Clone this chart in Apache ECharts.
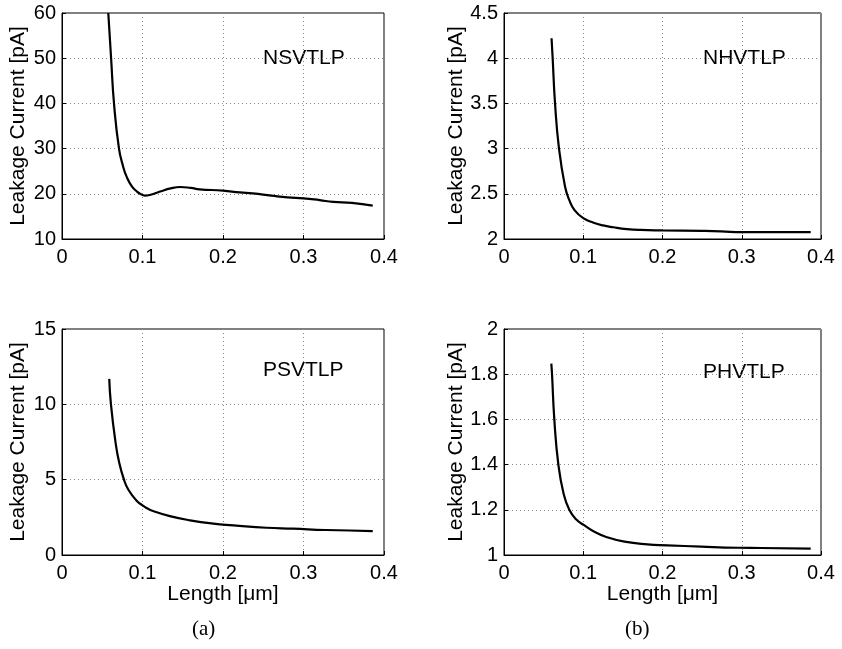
<!DOCTYPE html>
<html>
<head>
<meta charset="utf-8">
<script src="https://cdn.jsdelivr.net/npm/echarts@6/dist/echarts.min.js"></script>
<style>
html,body{margin:0;padding:0;background:#fff;}
#chart{width:842px;height:649px;}
</style>
</head>
<body>
<div id="chart"></div>
<script>
// ---- data ----
const xTicks = ["0", "0.1", "0.2", "0.3", "0.4"];

const nsvLen = [0.0575, 0.061, 0.0646, 0.0708, 0.076, 0.080, 0.0866, 0.093, 0.097, 0.103, 0.110, 0.122, 0.135, 0.147, 0.160, 0.171, 0.200, 0.221, 0.237, 0.260, 0.280, 0.300, 0.320, 0.337, 0.360, 0.386];
const nsvCur = [60, 50, 40, 30, 26, 23.9, 21.7, 20.5, 20.0, 19.6, 19.8, 20.5, 21.2, 21.5, 21.3, 21.0, 20.7, 20.3, 20.1, 19.6, 19.2, 19.0, 18.6, 18.2, 18.0, 17.4];

const nhvLen = [0.060, 0.0614, 0.0644, 0.0694, 0.077, 0.0824, 0.089, 0.100, 0.113, 0.125, 0.138, 0.155, 0.172, 0.200, 0.250, 0.274, 0.300, 0.350, 0.387];
const nhvCur = [4.22, 4.0, 3.5, 3.0, 2.58, 2.43, 2.32, 2.23, 2.18, 2.15, 2.13, 2.11, 2.10, 2.095, 2.09, 2.085, 2.075, 2.075, 2.075];

const psvLen = [0.0587, 0.0608, 0.0666, 0.0711, 0.077, 0.0823, 0.0927, 0.100, 0.105, 0.113, 0.134, 0.159, 0.188, 0.213, 0.254, 0.287, 0.328, 0.386];
const psvCur = [11.69, 10.0, 7.44, 6.12, 5.0, 4.35, 3.6, 3.3, 3.12, 2.92, 2.58, 2.30, 2.08, 1.97, 1.81, 1.75, 1.66, 1.59];

const phvLen = [0.0597, 0.0606, 0.0635, 0.0686, 0.0753, 0.0824, 0.0909, 0.101, 0.114, 0.129, 0.152, 0.181, 0.206, 0.249, 0.295, 0.324, 0.387];
const phvCur = [1.847, 1.8, 1.6, 1.4, 1.27, 1.2, 1.158, 1.132, 1.103, 1.08, 1.059, 1.047, 1.043, 1.037, 1.032, 1.031, 1.028];

const panelNames = ["NSVTLP", "NHVTLP", "PSVTLP", "PHVTLP"];
const yMins = [10, 2, 0, 1];
const yMaxs = [60, 4.5, 15, 2];
const yIntervals = [10, 0.5, 5, 0.2];
const yLabel = "Leakage Current [pA]";
const xLabel = "Length [\u03bcm]";
const captions = ["(a)", "(b)"];

const seriesLen = [nsvLen, nhvLen, psvLen, phvLen];
const seriesCur = [nsvCur, nhvCur, psvCur, phvCur];

// ---- layout ----
const grids = [
  {left: 62, top: 13, width: 322, height: 226},
  {left: 504, top: 13, width: 317, height: 226},
  {left: 62, top: 329, width: 322, height: 226},
  {left: 504, top: 329, width: 317, height: 226}
];
const FONT = '"Liberation Sans", Arial, Helvetica, sans-serif';

const chart = echarts.init(document.getElementById('chart'), null, {renderer: 'canvas'});

const xAxes = [], yAxes = [], series = [];
grids.forEach((g, i) => {
  const bottomRow = i >= 2;
  xAxes.push({
    type: 'value', gridIndex: i, min: 0, max: 0.4, interval: 0.1,
    axisLine: {show: true, lineStyle: {color: '#000', width: 1}},
    axisTick: {show: true, inside: true, length: 4, lineStyle: {color: '#000'}},
    axisLabel: {color: '#000', fontSize: 20, fontFamily: FONT, margin: 8,
      formatter: v => xTicks[Math.round(v * 10)]},
    splitLine: {show: true, lineStyle: {color: '#888', type: [1, 3], width: 1}},
    name: bottomRow ? xLabel : '',
    nameLocation: 'middle', nameGap: 26,
    nameTextStyle: {color: '#000', fontSize: 21, fontFamily: FONT}
  });
  yAxes.push({
    type: 'value', gridIndex: i, min: yMins[i], max: yMaxs[i], interval: yIntervals[i],
    axisLine: {show: true, lineStyle: {color: '#000', width: 1}},
    axisTick: {show: true, inside: true, length: 4, lineStyle: {color: '#000'}},
    axisLabel: {color: '#000', fontSize: 20, fontFamily: FONT, margin: 6},
    splitLine: {show: true, lineStyle: {color: '#888', type: [1, 3], width: 1}},
    name: yLabel, nameLocation: 'middle', nameGap: 33,
    nameTextStyle: {color: '#000', fontSize: 21, fontFamily: FONT}
  });
  series.push({
    type: 'line', xAxisIndex: i, yAxisIndex: i,
    data: seriesLen[i].map((x, k) => [x, seriesCur[i][k]]),
    showSymbol: false, smooth: 0.5, clip: true,
    lineStyle: {color: '#000', width: 2.2},
    silent: true, animation: false
  });
});

const labelPos = [
  {left: 263, top: 48},
  {left: 703, top: 48},
  {left: 263, top: 360},
  {left: 703, top: 362}
];
const graphic = panelNames.map((t, i) => ({
  type: 'text', left: labelPos[i].left, top: labelPos[i].top,
  style: {text: t, fill: '#000', font: '21px ' + FONT}
}));
graphic.push({type: 'text', left: 192, top: 619,
  style: {text: captions[0], fill: '#000', font: '21px "Liberation Serif", "Times New Roman", serif'}});
graphic.push({type: 'text', left: 625, top: 619,
  style: {text: captions[1], fill: '#000', font: '21px "Liberation Serif", "Times New Roman", serif'}});

chart.setOption({
  animation: false,
  backgroundColor: '#fff',
  grid: grids.map(g => Object.assign({show: true, borderColor: '#000', borderWidth: 1, backgroundColor: 'transparent'}, g)),
  xAxis: xAxes,
  yAxis: yAxes,
  series: series,
  graphic: graphic
});
</script>
</body>
</html>
